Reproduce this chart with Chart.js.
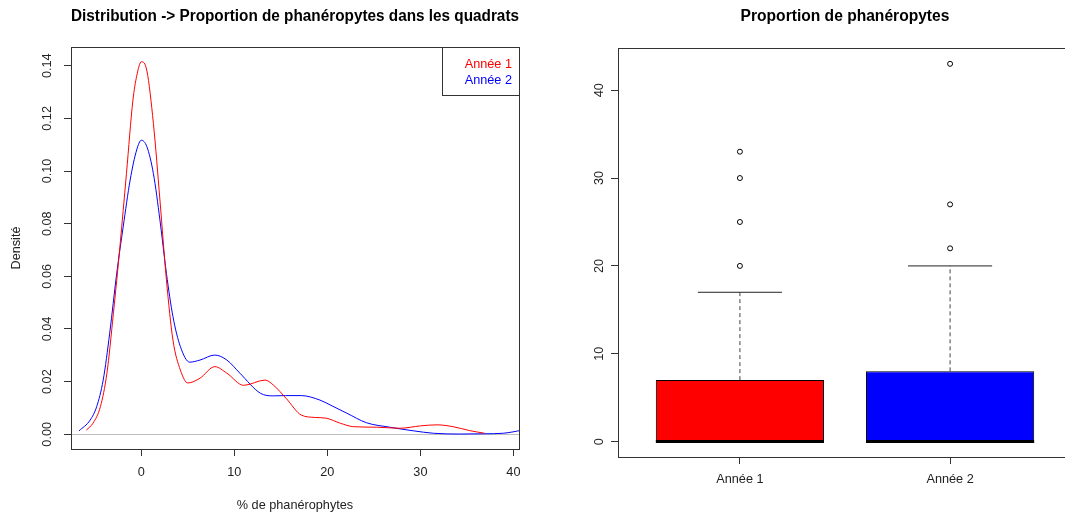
<!DOCTYPE html>
<html>
<head>
<meta charset="utf-8">
<script src="https://cdn.jsdelivr.net/npm/chart.js@4.4.0/dist/chart.umd.min.js"></script>
<style>
  html, body { margin: 0; padding: 0; background: #fff; width: 1065px; height: 516px; overflow: hidden; }
  #densite { position: absolute; left: 0; top: 0; }
  #boites { position: absolute; left: 540px; top: 0; }
</style>
</head>
<body>
<canvas id="densite" width="540" height="516"></canvas>
<canvas id="boites" width="560" height="516"></canvas>
<script>
// courbes de densité (% de phanérophytes)
var xAnnee1 = [-5.9, -5.2, -4.4, -3.7, -3.0, -2.3, -1.6, -0.9, -0.5, 0, 0.6, 1.3, 2.0, 2.7, 3.4, 4.2, 5.0, 6.3, 7.9, 9.2, 11.0, 13.3, 14.2, 15.6, 17.2, 18.7, 19.9, 21.4, 22.8, 25.3, 27.8, 30.0, 31.8, 33.5, 35.3, 36.9]
var densAnnee1 = [0.0016, 0.0042, 0.0105, 0.0232, 0.046, 0.0713, 0.099, 0.127, 0.136, 0.1415, 0.138, 0.118, 0.089, 0.0586, 0.0358, 0.0244, 0.0195, 0.0213, 0.0257, 0.0232, 0.0186, 0.0206, 0.0187, 0.0135, 0.0073, 0.0064, 0.0061, 0.0042, 0.0029, 0.0027, 0.0023, 0.0032, 0.0036, 0.0029, 0.0014, 0.0004]

var xAnnee2 = [-6.7, -5.5, -4.8, -4.1, -3.4, -2.65, -1.95, -1.2, -0.5, 0, 0.6, 1.3, 2.0, 2.7, 3.4, 4.2, 5.2, 6.3, 7.9, 9.2, 10.6, 12.8, 14.2, 15.5, 17.2, 19.2, 20.5, 22.1, 24.2, 26.7, 29.3, 31.4, 34.3, 36.8, 38.9, 41]
var densAnnee2 = [0.0013, 0.0054, 0.0105, 0.0206, 0.0384, 0.061, 0.0788, 0.0966, 0.108, 0.1117, 0.1092, 0.099, 0.0814, 0.0611, 0.0447, 0.0333, 0.0274, 0.0282, 0.0301, 0.0282, 0.0232, 0.0156, 0.0146, 0.0147, 0.0147, 0.013, 0.0108, 0.008, 0.0044, 0.0027, 0.0013, 0.0004, 0.0001, 0.0002, 0.0004, 0.0016]

// boîtes à moustaches
var categories = ['Année 1', 'Année 2']
var q1 = [0, 0]
var mediane = [0, 0]
var q3 = [7, 8]
var moustacheBas = [0, 0]
var moustacheHaut = [17, 20]
var aberrants1 = [20, 25, 30, 33]
var aberrants2 = [22, 27, 43]

const fonte = "'Liberation Sans', Arial, sans-serif";
Chart.defaults.font.family = fonte;
Chart.defaults.font.size = 12.7;
Chart.defaults.color = '#222';

// cadre autour de la zone du graphique (comme le box() de R)
const cadre = {
  id: 'cadre',
  afterDraw(chart) {
    const { ctx, chartArea: a } = chart;
    ctx.save();
    ctx.strokeStyle = '#333';
    ctx.lineWidth = 1;
    ctx.strokeRect(Math.round(a.left) + 0.5, Math.round(a.top) + 0.5, Math.round(a.right - a.left), Math.round(a.bottom - a.top));
    ctx.restore();
  }
};

// légende en haut à droite, texte coloré
const legende = {
  id: 'legende',
  afterDraw(chart) {
    const { ctx, chartArea: a } = chart;
    const larg = 77, haut = 48;
    ctx.save();
    ctx.strokeStyle = '#333';
    ctx.lineWidth = 1;
    ctx.strokeRect(Math.round(a.right - larg) + 0.5, Math.round(a.top) + 0.5, larg, haut);
    ctx.font = '12.7px ' + fonte;
    ctx.textAlign = 'right';
    ctx.textBaseline = 'middle';
    chart.data.datasets.forEach((d, i) => {
      ctx.fillStyle = d.borderColor;
      ctx.fillText(d.label, a.right - 7, a.top + 17 + i * 16);
    });
    ctx.restore();
  }
};

function points(xs, ys) {
  return xs.map((x, i) => ({ x: x, y: ys[i] }));
}

new Chart(document.getElementById('densite'), {
  type: 'line',
  data: {
    datasets: [
      { label: 'Année 1', data: points(xAnnee1, densAnnee1), borderColor: '#ff0000', borderWidth: 1, pointRadius: 0, cubicInterpolationMode: 'monotone', fill: false },
      { label: 'Année 2', data: points(xAnnee2, densAnnee2), borderColor: '#0000ff', borderWidth: 1, pointRadius: 0, cubicInterpolationMode: 'monotone', fill: false }
    ]
  },
  options: {
    responsive: false,
    animation: false,
    events: [],
    layout: { padding: { left: 0, right: 21, top: 0, bottom: 0 } },
    plugins: {
      legend: { display: false },
      tooltip: { enabled: false },
      title: {
        display: true,
        fullSize: false,
        text: 'Distribution -> Proportion de phanéropytes dans les quadrats',
        color: '#000',
        font: { size: 15.6, weight: 'bold' },
        padding: { top: 7, bottom: 21.3 }
      }
    },
    scales: {
      x: {
        type: 'linear',
        min: -7.56,
        max: 40.6,
        afterFit: s => { s.height = 67; },
        ticks: { stepSize: 10, includeBounds: false, padding: 9, maxRotation: 0, autoSkip: false },
        grid: { drawOnChartArea: false, tickLength: 7, tickColor: '#333' },
        border: { color: '#333' },
        title: { display: true, text: '% de phanérophytes', padding: { top: 0, bottom: 3 } }
      },
      y: {
        min: -0.00558,
        max: 0.1471,
        afterFit: s => { s.width = 71; },
        ticks: { stepSize: 0.02, includeBounds: false, minRotation: 90, maxRotation: 90, crossAlign: 'center', padding: 4, callback: v => v.toFixed(2) },
        grid: { color: c => (c.tick && c.tick.value === 0 ? '#bebebe' : 'rgba(0,0,0,0)'), tickColor: '#333', tickLength: 7 },
        border: { color: '#333' },
        title: { display: true, text: 'Densité', padding: { top: 9 } }
      }
    }
  },
  plugins: [cadre, legende]
});

// boîtes : positions 1, 2 sur un axe linéaire
const centres = categories.map((c, i) => i + 1);
const demiBoite = 0.4;
const demiCrochet = 0.2;

function segments(liste) {
  // liste de [x1, y1, x2, y2] -> points séparés par un trou
  var res = [];
  liste.forEach(s => {
    res.push({ x: s[0], y: s[1] });
    res.push({ x: s[2], y: s[3] });
    res.push({ x: s[2], y: null });
  });
  return res;
}

var dataMediane = segments(centres.map((x, i) => [x - demiBoite, mediane[i], x + demiBoite, mediane[i]]));
var dataMoustaches = segments(centres.map((x, i) => [x, q3[i], x, moustacheHaut[i]]).concat(centres.map((x, i) => [x, moustacheBas[i], x, q1[i]])));
var dataCrochets = segments(centres.map((x, i) => [x - demiCrochet, moustacheHaut[i], x + demiCrochet, moustacheHaut[i]]).concat(centres.map((x, i) => [x - demiCrochet, moustacheBas[i], x + demiCrochet, moustacheBas[i]])));
var dataAberrants = aberrants1.map(v => ({ x: centres[0], y: v })).concat(aberrants2.map(v => ({ x: centres[1], y: v })));

new Chart(document.getElementById('boites'), {
  type: 'bar',
  data: {
    datasets: [
      { type: 'bar', data: centres.map((x, i) => ({ x: x, y: [q1[i], q3[i]] })), backgroundColor: ['#ff0000', '#0000ff'], borderColor: '#000', borderWidth: 1, borderSkipped: false, barPercentage: 1, categoryPercentage: 0.8, order: 5 },
      { type: 'line', data: dataMoustaches, borderColor: '#444', borderWidth: 1, borderDash: [4, 3], pointRadius: 0, order: 4 },
      { type: 'line', data: dataCrochets, borderColor: '#222', borderWidth: 1, pointRadius: 0, order: 3 },
      { type: 'line', data: dataMediane, borderColor: '#000', borderWidth: 3, pointRadius: 0, order: 1 },
      { type: 'scatter', data: dataAberrants, borderColor: '#000', backgroundColor: 'rgba(0,0,0,0)', pointRadius: 2.5, pointBorderWidth: 1, order: 0 }
    ]
  },
  options: {
    responsive: false,
    animation: false,
    events: [],
    layout: { padding: { left: 0, right: 28, top: 0, bottom: 0 } },
    plugins: {
      legend: { display: false },
      tooltip: { enabled: false },
      title: {
        display: true,
        fullSize: false,
        text: 'Proportion de phanéropytes',
        color: '#000',
        font: { size: 15.6, weight: 'bold' },
        padding: { top: 7, bottom: 22.3 }
      }
    },
    scales: {
      x: {
        type: 'linear',
        min: 0.42,
        max: 2.58,
        offset: false,
        afterFit: s => { s.height = 59; },
        ticks: { stepSize: 1, includeBounds: false, padding: 8, maxRotation: 0, autoSkip: false, callback: v => (Number.isInteger(v) ? categories[v - 1] : '') },
        grid: { drawOnChartArea: false, offset: false, tickLength: 7, tickColor: '#333' },
        border: { color: '#333' }
      },
      y: {
        min: -1.75,
        max: 44.8,
        afterFit: s => { s.width = 78; },
        ticks: { stepSize: 10, includeBounds: false, minRotation: 90, maxRotation: 90, crossAlign: 'center', padding: 4 },
        grid: { drawOnChartArea: false, tickLength: 7, tickColor: '#333' },
        border: { color: '#333' }
      }
    }
  },
  plugins: [cadre]
});
</script>
</body>
</html>
